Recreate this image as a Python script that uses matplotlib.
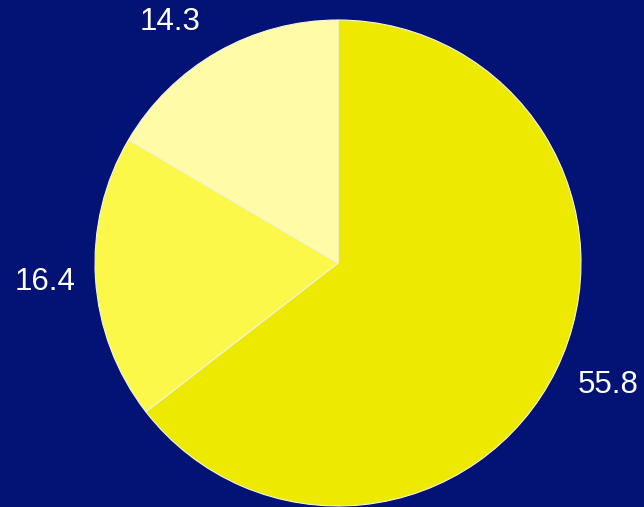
import numpy as np
import matplotlib
matplotlib.use("Agg")
import matplotlib.pyplot as plt

# slice values, clockwise from 12 o'clock
values = [55.8, 16.4, 14.3]
labels = ["55.8", "16.4", "14.3"]
colors = ["#EEE900", "#FCF84A", "#FFFBA6"]
bg = "#021275"

W, H = 644, 507
fig = plt.figure(figsize=(W / 100, H / 100), dpi=100, facecolor=bg)

# pie centre at (338, 263) px, radius 243 px
cx, cy, r = 338, 263, 243
ax = fig.add_axes([(cx - r) / W, (H - cy - r) / H, 2 * r / W, 2 * r / H])
ax.set_facecolor(bg)
ax.axis("off")

wedges, texts = ax.pie(values, labels=labels, colors=colors, startangle=90,
                       counterclock=False, radius=1, labeldistance=1.21,
                       wedgeprops=dict(edgecolor="#F4F4E0", linewidth=0.8),
                       textprops=dict(color="white", fontsize=22.5,
                                      family="Liberation Sans"))
ax.set_xlim(-1, 1)
ax.set_ylim(-1, 1)
ax.set_aspect("equal")

# top label sits a bit further round so it stays inside the figure
for t in texts:
    t.set_ha("center")
    t.set_va("center")
    t.set_clip_on(False)
    t.set_path_effects([])
ang = np.deg2rad(124.8)
texts[2].set_position((1.21 * np.cos(ang), 1.21 * np.sin(ang)))
ang = np.deg2rad(-24.3)
texts[0].set_position((1.22 * np.cos(ang), 1.22 * np.sin(ang)))

fig.savefig("out.png", dpi=100, facecolor=bg)
